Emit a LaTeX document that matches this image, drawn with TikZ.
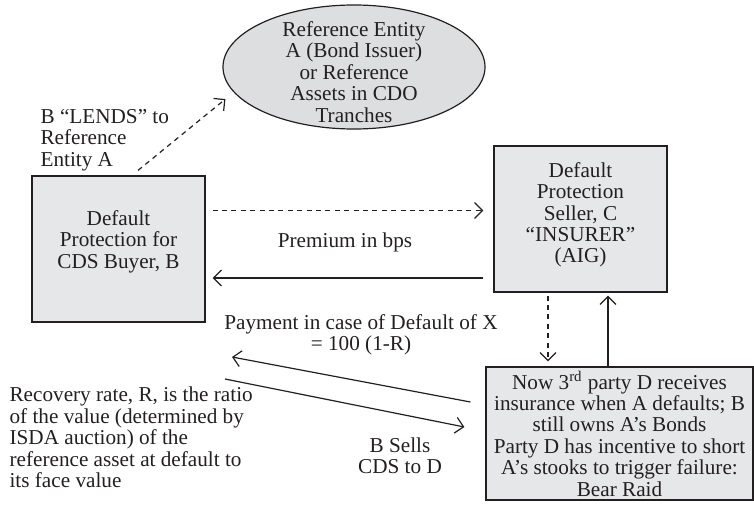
\documentclass[tikz,border=0pt]{standalone}
\usepackage{fontspec}
\setmainfont{Liberation Serif}
\usetikzlibrary{arrows.meta,shapes.geometric}
\definecolor{boxfill}{RGB}{230,231,232}
\definecolor{ellfill}{RGB}{221,222,224}
\definecolor{ink}{RGB}{35,31,32}
\begin{document}
\begin{tikzpicture}[x=0.5pt, y=-0.5pt, font=\fontsize{10.6}{10.7}\selectfont, line width=0.6pt,
	>={Straight Barb[length=4pt,width=8pt]},
	party/.style={rectangle, draw=ink, fill=boxfill, text=ink, align=center, inner sep=0pt, minimum width=86.5pt, minimum height=73pt},
	entity/.style={ellipse, draw=ink, fill=ellfill, text=ink, align=center, inner xsep=0pt, inner ysep=-6.3pt, minimum width=131pt, minimum height=62pt},
	note/.style={text=ink, inner sep=0pt},
	dashline/.style={dash pattern=on 2.5pt off 2.2pt}]
		\useasboundingbox (0,0) rectangle (754,508);
		
		\node[entity, text height=55.3pt] (A) at (354,67) {Reference Entity\\A (Bond Issuer)\\or Reference\\Assets in CDO\\Tranches};
		\node[party, text depth=9.8pt] (B) at (118.5,249) {Default\\Protection for\\CDS Buyer, B};
		\node[party, text depth=6.3pt] (C) at (580.5,219) {Default\\Protection\\Seller, C\\``INSURER''\\(AIG)};
		\node[party, minimum width=133.5pt, minimum height=66.5pt] (D) at (619.5,433.5) {Now 3\textsuperscript{rd} party D receives\\insurance when A defaults; B\\still owns A’s Bonds\\Party D has incentive to short\\A’s stooks to trigger failure:\\Bear Raid};
		
		\node[note, anchor=west, align=left] (lends) at (40,140) {B ``LENDS'' to\\Reference\\Entity A};
		\node[note] (premium) at (345,242) {Premium in bps};
		\node[note, align=center] (payment) at (361,335) {Payment in case of Default of X\\= 100 (1-R)};
		\node[note, align=center] (sells) at (400,456) {B Sells\\CDS to D};
		\node[note, anchor=west, align=left] (recovery) at (9,437.5) {Recovery rate, R, is the ratio\\of the value (determined by\\ISDA auction) of the\\reference asset at default to\\its face value};
		
		\coordinate (payend) at (232,357);
		\coordinate (sellstart) at (225,379);
		
		\draw[->, dashline, ink] ([xshift=9.75pt,yshift=2.5pt]B.north) -- ([xshift=-6pt,yshift=-1.5pt]A.194);
		\draw[->, dashline, ink] ([xshift=3.5pt,yshift=19.25pt]B.east) -- ([xshift=-5pt,yshift=4.25pt]C.west);
		\draw[->, ink] ([xshift=-5pt,yshift=-29.5pt]C.west) -- ([xshift=3.5pt,yshift=-14.5pt]B.east);
		\draw[->, dashline, ink] ([xshift=-16.25pt,yshift=-1.5pt]C.south) -- ([xshift=-35.75pt,yshift=2.5pt]D.north);
		\draw[->, ink] ([xshift=-5.75pt]D.north) -- ([xshift=13.75pt,yshift=-1.5pt]C.south);
		\draw[->, ink] ([xshift=-7.5pt,yshift=15.75pt]D.west) -- (payend);
		\draw[->, ink] (sellstart) -- ([xshift=-10.5pt,yshift=3.25pt]D.west);
	\end{tikzpicture}
\end{document}
